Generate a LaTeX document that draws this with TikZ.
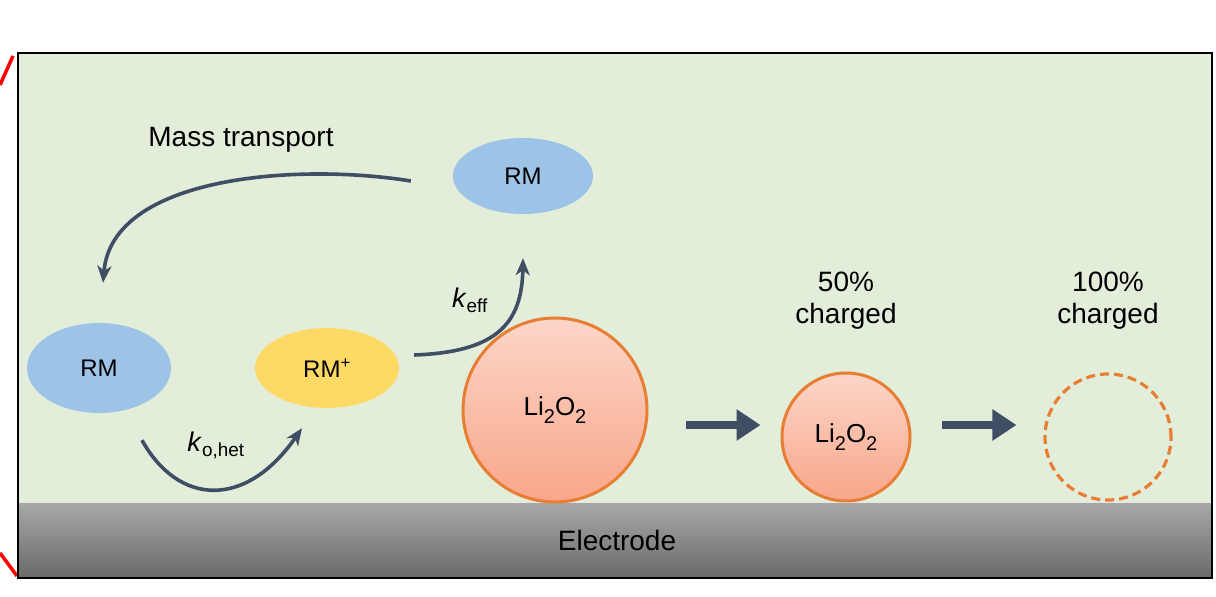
\documentclass[tikz,border=0pt]{standalone}
\usepackage{fontspec}
\setmainfont{Liberation Sans}
\usetikzlibrary{arrows.meta,shapes.geometric}
\definecolor{bggreen}{RGB}{226,238,217}
\definecolor{rmblue}{RGB}{157,195,230}
\definecolor{rmyellow}{RGB}{255,217,102}
\definecolor{lioorange}{RGB}{232,125,52}
\definecolor{liotop}{RGB}{252,214,200}
\definecolor{liobot}{RGB}{248,166,138}
\definecolor{arrowslate}{RGB}{64,78,100}
\definecolor{elecTop}{RGB}{168,168,168}
\definecolor{elecBot}{RGB}{106,106,106}
\newcommand{\lisub}[1]{\raisebox{-0.3em}{\fontsize{20}{20}\selectfont #1}}
\tikzset{
  rmnode/.style={ellipse, minimum width=144pt, minimum height=82pt, inner sep=0pt, font=\fontsize{24}{28}\selectfont},
  lionode/.style={circle, draw=lioorange, line width=3pt, top color=liotop, bottom color=liobot, inner sep=0pt, font=\fontsize{26}{30}\selectfont},
  curvearrow/.style={draw=arrowslate, line width=3.6pt, -{Stealth[length=17pt,width=14pt,inset=5pt]}},
  fatarrow/.style={draw=arrowslate, line width=8pt, -{Triangle[length=24pt,width=30pt]}},
  lbl/.style={font=\fontsize{28}{32}\selectfont, align=center, inner sep=0pt},
  klbl/.style={font=\fontsize{27}{30}\selectfont, inner sep=0pt},
}
\begin{document}
\begin{tikzpicture}[x=1pt,y=-1pt]
\useasboundingbox (0,0) rectangle (1216,597);
% zoom lines
\draw[red, line width=3.5pt] (0,85) -- (13,56);
\draw[red, line width=3.5pt] (0,553) -- (17,576);
% background
\fill[bggreen] (18,53) rectangle (1212,502);
\shade[top color=elecTop, bottom color=elecBot] (18,502) rectangle (1212,578);
\draw[white!80!gray, line width=1pt] (18,502.5) -- (1212,502.5);
\draw[black, line width=2.6pt] (18,53) rectangle (1212,578);
\node[font=\fontsize{28}{32}\selectfont] (elec) at (617,540) {Electrode};
% species
\node[rmnode, fill=rmblue, minimum width=140pt, minimum height=76pt] (rmtop) at (523,176) {RM};
\node[rmnode, fill=rmblue, minimum height=90pt] (rmleft) at (99,368) {RM};
\node[rmnode, fill=rmyellow, minimum height=80pt] (rmplus) at (327,368) {RM\textsuperscript{+}};
\node[lionode, minimum size=184pt] (liobig) at (555,410) {Li\lisub{2}O\lisub{2}};
\node[lionode, minimum size=128pt] (liosmall) at (846,437) {Li\lisub{2}O\lisub{2}};
\node[circle, draw=lioorange, line width=3.2pt, dash pattern=on 9pt off 5pt, minimum size=126pt, inner sep=0pt] (liogone) at (1108,437) {};
% labels
\node[lbl] (mass) at (241,140) {Mass transport};
\node[lbl] (half) at (846,301) {50\%\\charged};
\node[lbl] (full) at (1108,301) {100\%\\charged};
\node[klbl] (keff) at (470,300) {\textit{k}\textsubscript{eff}};
\node[klbl] (khet) at (216,445) {\textit{k}\textsubscript{o,het}};
% connectors
\draw[curvearrow] ([xshift=-42pt,yshift=-5pt]rmtop.west) .. controls (300,163) and (112,175) .. ([xshift=4pt,yshift=40pt]rmleft.north);
\draw[curvearrow] ([xshift=15pt,yshift=13pt]rmplus.east) .. controls (495,352) and (522,325) .. ([yshift=-44pt]rmtop.south);
\draw[curvearrow] ([xshift=43pt,yshift=-27pt]rmleft.south) .. controls (178,505) and (245,510) .. ([xshift=-25pt,yshift=-20pt]rmplus.south);
\draw[fatarrow] ([xshift=37pt,yshift=-15pt]liobig.east) -- ([xshift=-20pt,yshift=12pt]liosmall.west);
\draw[fatarrow] ([xshift=30pt,yshift=12pt]liosmall.east) -- ([xshift=-27pt,yshift=12pt]liogone.west);
\end{tikzpicture}
\end{document}
